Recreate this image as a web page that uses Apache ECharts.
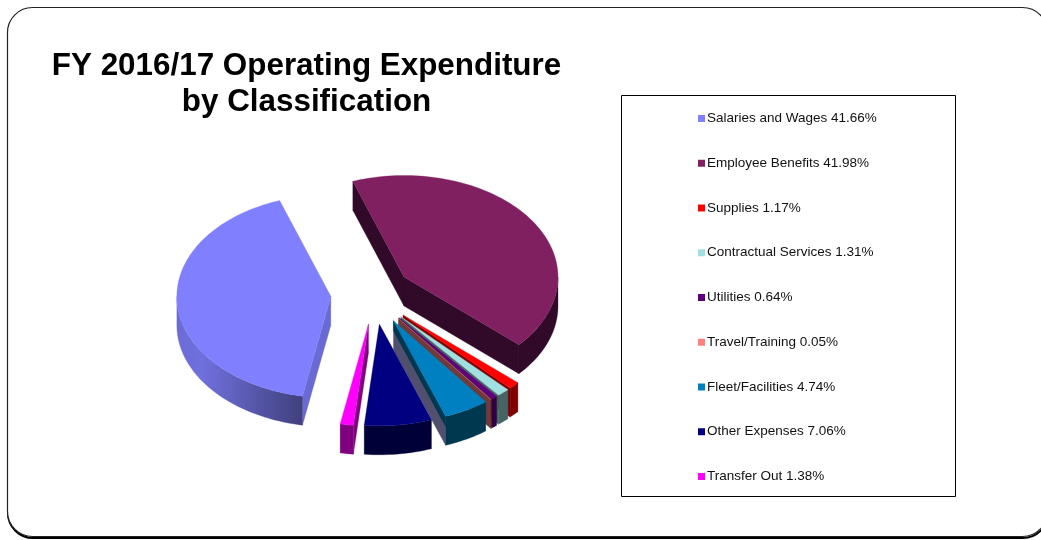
<!DOCTYPE html>
<html>
<head>
<meta charset="utf-8">
<style>html,body{margin:0;padding:0;background:#fff}#chart{width:1041px;height:540px}</style>
<script src="https://cdn.jsdelivr.net/npm/echarts@6/dist/echarts.min.js"></script>
</head>
<body>
<div id="chart"></div>
<script>
// Operating expenditure shares, percent of total, clockwise from the first slice
const categories = ['Salaries and Wages','Employee Benefits','Supplies','Contractual Services','Utilities','Travel/Training','Fleet/Facilities','Other Expenses','Transfer Out'];
const shares = [41.66,41.98,1.17,1.31,0.64,0.05,4.74,7.06,1.38];

const topColors  = ['#8080FF','#802060','#FF0000','#A0E0E0','#600080','#FF8080','#0080C0','#000080','#FF00FF'];
const wallColors = ['#6A6AD4','#300A28','#800000','#466464','#300040','#703A3A','#003850','#000038','#800080'];
const faceColors = ['#6A6AD4','#300A28','#800000','#466464','#300040','#703A3A','#50506E','#000038','#800080'];

// Projection of the tilted pie
const CX = 371.5, CY = 294, RX = 154, TILT = 0.66, DEPTH = 29;
const EXPLODE = 41, EXPLODE_TILT = 0.74, EXPLODE_SKEW = 2.8;
const START_ANGLE = 190.6;
const total = shares.reduce((a, b) => a + b, 0);

function project(ox, oy, radius, deg, tilt) {
  const t = deg * Math.PI / 180;
  return [ox + radius * Math.sin(t), oy - radius * tilt * Math.cos(t)];
}
function down(p) { return [p[0], p[1] + DEPTH]; }
function arc(ox, oy, from, to) {
  const pts = [], n = Math.max(2, Math.ceil((to - from) / 1.5));
  for (let i = 0; i <= n; i++) pts.push(project(ox, oy, RX, from + (to - from) * i / n, TILT));
  return pts;
}
function poly(points, fill) {
  return { type: 'polygon', shape: { points }, style: { fill, stroke: fill, lineWidth: 0.3 } };
}

function drawSlice(idx, value) {
  const before = shares.slice(0, idx).reduce((a, b) => a + b, 0);
  let from = START_ANGLE + before / total * 360;
  if (from >= 270) from -= 360;
  const to = from + value / total * 360;
  const mid = (from + to) / 2;
  const apex = project(CX, CY, EXPLODE, mid, EXPLODE_TILT);
  // Slices pulled towards the viewer drift slightly to the right
  apex[0] -= EXPLODE_SKEW * Math.cos(mid * Math.PI / 180);
  const ox = apex[0], oy = apex[1];
  const rim = arc(ox, oy, from, to);
  const children = [];

  // Cut faces turned towards the viewer
  const sideFace = (deg, fill, share) => {
    const edge = project(ox, oy, RX, deg, TILT);
    const drop = p => [p[0], p[1] + DEPTH * share];
    children.push(poly([apex, edge, drop(edge), drop(apex)], fill));
  };
  if (Math.sin(from * Math.PI / 180) < 0) sideFace(from, faceColors[idx], 1);
  if (Math.sin(to * Math.PI / 180) > 0) {
    sideFace(to, faceColors[idx], 1);
    if (faceColors[idx] !== wallColors[idx]) sideFace(to, wallColors[idx], 0.35);
  }

  // Outer wall, only the arc on the near half of the pie
  const a = Math.max(from, 90), b = Math.min(to, 270);
  if (b > a) {
    const edge = arc(ox, oy, a, b);
    const wall = poly(edge.concat(edge.map(down).reverse()), wallColors[idx]);
    if (idx === 0) {
      wall.style.fill = wall.style.stroke = new echarts.graphic.LinearGradient(
        edge[edge.length - 1][0], 0, edge[0][0], 0,
        [{ offset: 0, color: '#6C6CD8' }, { offset: 0.2, color: '#7070DE' }, { offset: 1, color: '#40407C' }], true);
    }
    children.push(wall);
  }

  // Top surface
  children.push(poly([apex].concat(rim), topColors[idx]));
  return { type: 'group', children };
}

const series = categories.map((name, idx) => ({
  type: 'custom',
  name: name + ' ' + shares[idx] + '%',
  coordinateSystem: 'none',
  silent: true,
  itemStyle: { color: topColors[idx] },
  data: [[shares[idx]]],
  renderItem: (params, api) => drawSlice(idx, api.value(0))
}));

const chart = echarts.init(document.getElementById('chart'), null, { renderer: 'canvas' });
chart.setOption({
  animation: false,
  backgroundColor: '#fff',
  title: {
    text: 'FY 2016/17 Operating Expenditure\nby Classification',
    left: 301.5, top: 43, textAlign: 'center',
    textStyle: { fontFamily: 'Liberation Sans', fontWeight: 'bold', fontSize: 31.4, lineHeight: 36, color: '#000' }
  },
  legend: {
    orient: 'vertical',
    left: 698, top: 111.5,
    itemWidth: 7, itemHeight: 7, itemGap: 30.75,
    icon: 'rect',
    selectedMode: false,
    padding: 0,
    textStyle: { fontFamily: 'Liberation Sans', fontSize: 13.5, color: '#111', padding: [0, 0, 0, -3] },
    data: series.map(s => s.name)
  },
  graphic: [
    { type: 'rect', z: -10, shape: { x: 8, y: 9, width: 1040, height: 529, r: 25 }, style: { fill: 'none', stroke: '#000', lineWidth: 2 } },
    { type: 'rect', z: -9, shape: { x: 7.5, y: 7.5, width: 1040, height: 529, r: 25 }, style: { fill: '#fff', stroke: '#222', lineWidth: 1.2 } },
    { type: 'rect', z: -8, shape: { x: 621.5, y: 95.5, width: 334, height: 401 }, style: { fill: '#fff', stroke: '#000', lineWidth: 1 } }
  ],
  series
});
</script>
</body>
</html>
